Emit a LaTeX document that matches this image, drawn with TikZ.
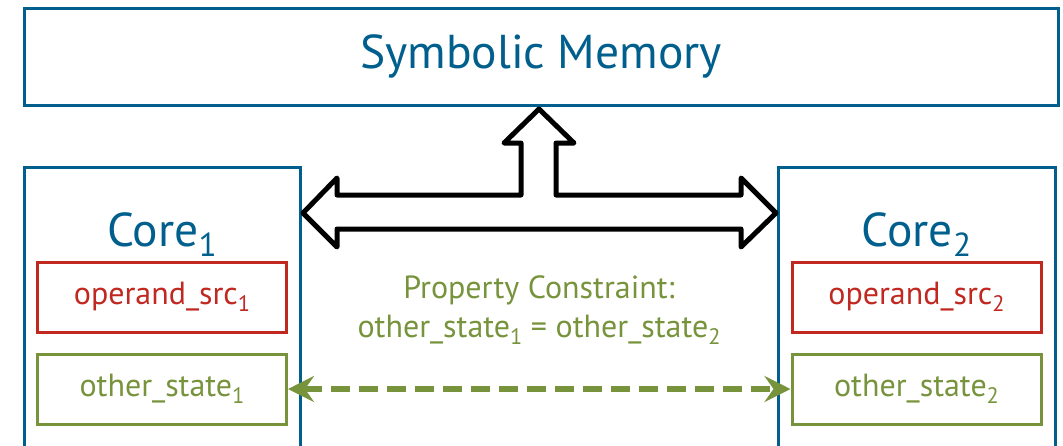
\documentclass[tikz,border=0pt]{standalone}
\usepackage{fontspec}
\setmainfont{PT Sans}
\usetikzlibrary{arrows.meta}
\definecolor{memblue}{RGB}{0,95,140}
\definecolor{srcred}{RGB}{192,40,32}
\definecolor{stgreen}{RGB}{119,147,60}
\newcommand\lowsub[1]{\raisebox{-0.22em}{\scalebox{0.7}{#1}}}
\begin{document}
\begin{tikzpicture}[x=1pt,y=-1pt,
  bluebox/.style={draw=memblue, line width=3pt, inner sep=0pt},
  bigtext/.style={text=memblue, font=\fontsize{47.5}{56}\selectfont},
  redbox/.style={draw=srcred, line width=3pt, inner sep=0pt, text=srcred,
     minimum width=249pt, minimum height=70pt, font=\fontsize{32}{38}\selectfont},
  greenbox/.style={draw=stgreen, line width=3pt, inner sep=0pt, text=stgreen,
     minimum width=249pt, minimum height=70pt, font=\fontsize{32}{38}\selectfont},
  greentext/.style={text=stgreen, font=\fontsize{32}{38}\selectfont, inner sep=0pt},
  blockarrow/.style={draw=black, line width=5pt, line join=round, fill=white},
  dasharrow/.style={draw=stgreen, line width=6pt, dash pattern=on 19pt off 9pt,
     {Stealth[length=26pt,width=26pt,inset=9pt]}-{Stealth[length=26pt,width=26pt,inset=9pt]}}
]
\useasboundingbox (0,0) rectangle (1063,445);
\clip (0,0) rectangle (1063,445);

\node[bluebox, bigtext, minimum width=1034pt, minimum height=97pt] (mem) at (541,56.5) {Symbolic Memory};

\node[bluebox, minimum width=276pt, minimum height=290pt] (core1) at (162,312) {};
\node[bluebox, minimum width=277pt, minimum height=290pt] (core2) at (916.5,312) {};

\node[bigtext, anchor=base, inner sep=0pt] (t1) at (162,246) {Core\lowsub{1}};
\node[bigtext, anchor=base, inner sep=0pt] (t2) at (916.5,246) {Core\lowsub{2}};

\node[redbox] (src1) at (162,297) {operand\_src\lowsub{1}};
\node[redbox] (src2) at (916.5,297) {operand\_src\lowsub{2}};

\node[greenbox] (os1) at (162,389) {other\_state\lowsub{1}};
\node[greenbox] (os2) at (916.5,389) {other\_state\lowsub{2}};

\node[greentext, anchor=base] (pc1) at (539,298) {Property Constraint:};
\node[greentext, anchor=base] (pc2) at (539,337) {other\_state\lowsub{1} = other\_state\lowsub{2}};

\draw[blockarrow] (303,213) -- (337,178) -- (337,195) -- (521,195) -- (521,143)
  -- (504,143) -- (539,109) -- (574,143) -- (556,143) -- (556,195) -- (741,195)
  -- (741,178) -- (776,213) -- (741,247) -- (741,229) -- (337,229) -- (337,247) -- cycle;

\draw[dasharrow] (os1.east) -- (os2.west);
\end{tikzpicture}
\end{document}
